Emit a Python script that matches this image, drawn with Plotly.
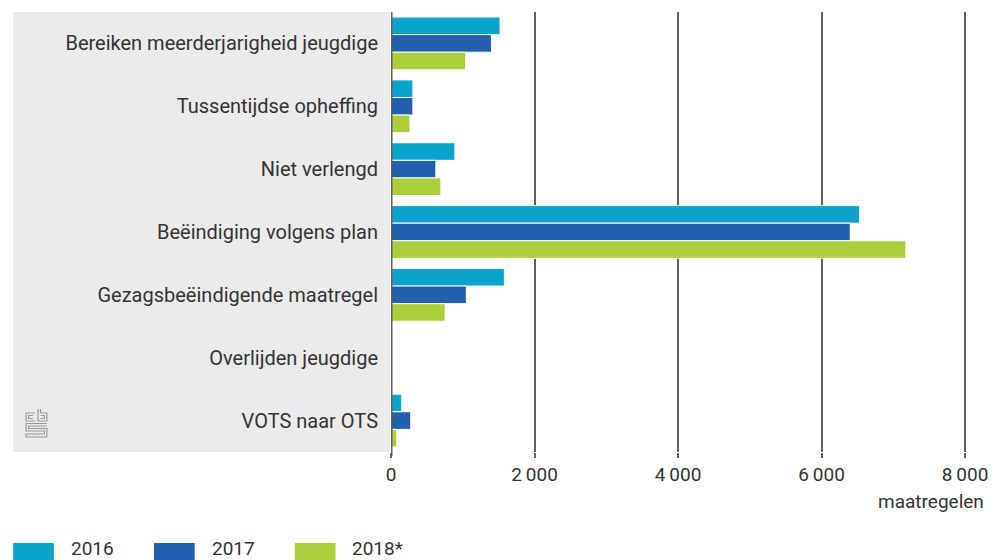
import plotly.graph_objects as go

categories = [
    "Bereiken meerderjarigheid jeugdige",
    "Tussentijdse opheffing",
    "Niet verlengd",
    "Beëindiging volgens plan",
    "Gezagsbeëindigende maatregel",
    "Overlijden jeugdige",
    "VOTS naar OTS",
]
series_names = ["2016", "2017", "2018*"]
values_2016 = [1520, 305, 890, 6530, 1580, 0, 150]
values_2017 = [1400, 305, 625, 6400, 1050, 0, 275]
values_2018 = [1040, 265, 695, 7175, 755, 0, 80]
colors = ["#0aa3cb", "#225fad", "#abcf3a"]
tick_vals = [0, 2000, 4000, 6000, 8000]
tick_text = ["0", "2\u2009000", "4\u2009000", "6\u2009000", "8\u2009000"]
axis_title = "maatregelen"

FONT = "Roboto"
FS = 19
W, H = 994, 560
ML, MR, MT, MB = 391, 6, 12, 108
PW = W - ML - MR
PH = H - MT - MB

fig = go.Figure()
for name, vals, col in zip(series_names, [values_2016, values_2017, values_2018], colors):
    fig.add_trace(go.Bar(
        y=categories, x=vals, name=name, orientation="h",
        marker=dict(color=col, line=dict(color="white", width=1)),
        showlegend=False, hoverinfo="x+name",
    ))

def px_x(p):
    return (p - ML) / PW

def px_y(p):
    return 1 - (p - MT) / PH

def path(points):
    return "M " + " L ".join(f"{px_x(x):.5f},{px_y(y):.5f}" for x, y in points)

shapes = []
shapes.append(dict(type="rect", xref="paper", yref="paper",
                   x0=px_x(10), x1=px_x(390), y0=px_y(452), y1=px_y(12),
                   fillcolor="#ebebeb", line=dict(width=0), layer="below"))
shapes.append(dict(type="line", xref="x", yref="paper", x0=0, x1=0,
                   y0=px_y(456), y1=1, line=dict(color="#606060", width=3)))

# small cbs-style logo outline
logo_paths = [
    [(32, 413), (23, 413), (23, 421), (32, 421)],
    [(30, 415.5), (25.5, 415.5), (25.5, 418.5), (30, 418.5)],
    [(35, 409), (35, 421), (44, 421), (44, 413), (37.5, 413), (37.5, 409)],
    [(37.5, 418.5), (41.5, 418.5), (41.5, 415.5), (37.5, 415.5)],
    [(44, 423.5), (23, 423.5), (23, 431), (41.5, 431), (41.5, 434), (23, 434), (23, 437), (44, 437), (44, 428.5), (25.5, 428.5), (25.5, 426), (44, 426)],
]
for pts in logo_paths:
    shapes.append(dict(type="path", xref="paper", yref="paper", path=path(pts),
                       line=dict(color="#9a9a9a", width=1.2)))

annotations = []
leg_x = [10, 152, 294]
for i, (name, col) in enumerate(zip(series_names, colors)):
    x0 = leg_x[i]
    shapes.append(dict(type="rect", xref="paper", yref="paper",
                       x0=px_x(x0), x1=px_x(x0 + 41), y0=px_y(560), y1=px_y(543),
                       fillcolor=col, line=dict(width=0)))
    annotations.append(dict(xref="paper", yref="paper", x=px_x(x0 + 56), y=px_y(548),
                            text=name, showarrow=False, xanchor="left", yanchor="middle",
                            font=dict(family=FONT, size=FS, color="#333333")))

annotations.append(dict(xref="paper", yref="paper", x=px_x(991), y=px_y(501),
                        text=axis_title, showarrow=False, xanchor="right", yanchor="middle",
                        font=dict(family=FONT, size=FS, color="#333333")))

fig.update_layout(
    width=W, height=H,
    margin=dict(l=ML, r=MR, t=MT, b=MB, pad=0),
    paper_bgcolor="white", plot_bgcolor="white",
    barmode="group", bargap=0.16, bargroupgap=0.0,
    font=dict(family=FONT, size=FS, color="#333333"),
    shapes=shapes, annotations=annotations,
    xaxis=dict(range=[0, 8250], tickvals=tick_vals, ticktext=tick_text,
               showgrid=True, gridcolor="#606060", gridwidth=1.5,
               zeroline=False, showline=False,
               ticks="outside", ticklen=5, tickcolor="#606060", tickwidth=1.5,
               tickfont=dict(family=FONT, size=FS, color="#333333")),
    yaxis=dict(autorange="reversed", showgrid=False, zeroline=False, showline=False,
               ticks="", ticklabelstandoff=12,
               tickfont=dict(family=FONT, size=20, color="#333333")),
)

fig.write_html("out.html", config={"displayModeBar": False},
               post_script="document.body.style.margin='0';document.body.style.padding='0';document.body.style.overflow='hidden';")
